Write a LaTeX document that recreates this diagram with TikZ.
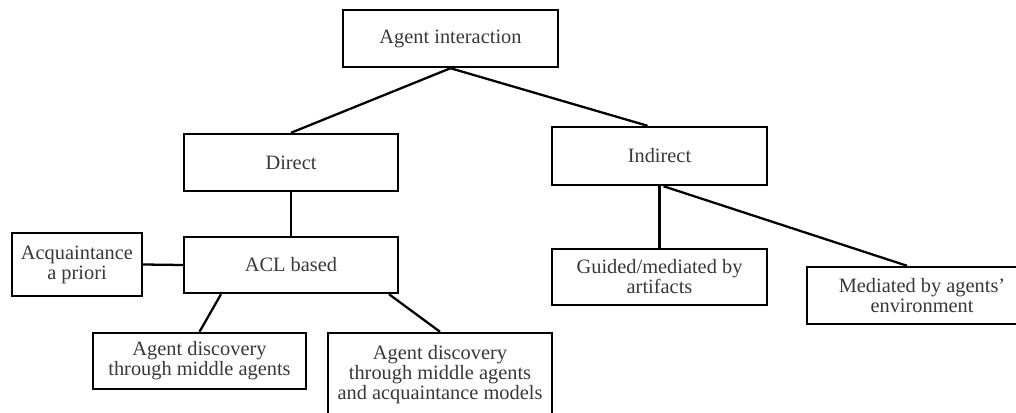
\documentclass[tikz,border=0pt]{standalone}
\usepackage{fontspec}
\setmainfont{Liberation Serif}
\usetikzlibrary{calc}

\begin{document}
\begin{tikzpicture}[%
x=0.02cm, y=-0.02cm,
box/.style={draw=black, line width=1.4pt, fill=white, inner sep=0pt, align=center,
  text=black!78, font=\fontsize{11.6}{11.4}\selectfont},
link/.style={draw=black, line width=1.3pt},
]
\useasboundingbox (0,0) rectangle (1016,412);
\clip (0,0) rectangle (1016,412);
%% box;
\node [box, minimum width=215*0.02cm, minimum height=57*0.02cm] (interaction) at (450.5,38.5) {Agent interaction};
%% box;
\node [box, minimum width=214*0.02cm, minimum height=57*0.02cm] (direct) at (291,162.5) {Direct};
%% box;
\node [box, minimum width=214*0.02cm, minimum height=56*0.02cm] (acl) at (291,265) {ACL based};
%% box;
\node [box, minimum width=130*0.02cm, minimum height=63*0.02cm] (apriori) at (77,264.5) {Acquaintance\\a priori};
%% box;
\node [box, minimum width=213*0.02cm, minimum height=56*0.02cm] (middle) at (199.5,361) {Agent discovery\\through middle agents};
%% box;
\node [box, minimum width=224*0.02cm, minimum height=84*0.02cm] (models) at (440,375) {Agent discovery\\through middle agents\\and acquaintance models};
%% box;
\node [box, minimum width=215*0.02cm, minimum height=58*0.02cm] (indirect) at (659.5,156) {Indirect};
%% box;
\node [box, minimum width=215*0.02cm, minimum height=56*0.02cm] (artifacts) at (659.5,277) {Guided/mediated by\\artifacts};
%% box;
\node [box, minimum width=230*0.02cm, minimum height=57*0.02cm] (environment) at (922,295.5) {Mediated by agents'\\environment};
%% link;
\draw [link] (interaction.south) -- (direct.north);
%% link;
\draw [link] (interaction.south) -- ([xshift=-12*0.02cm]indirect.north);
%% link;
\draw [link] (direct.south) -- (acl.north);
%% link;
\draw [link] (apriori.east) -- (acl.west);
%% link;
\draw [link] ([xshift=-70*0.02cm]acl.south) -- (middle.north);
%% link;
\draw [link] ([xshift=98*0.02cm]acl.south) -- (models.north);
%% link;
\draw [link] (indirect.south) -- (artifacts.north);
%% link;
\draw [link] ([xshift=4*0.02cm]indirect.south) -- ([xshift=-15*0.02cm]environment.north);
\end{tikzpicture}
\end{document}
